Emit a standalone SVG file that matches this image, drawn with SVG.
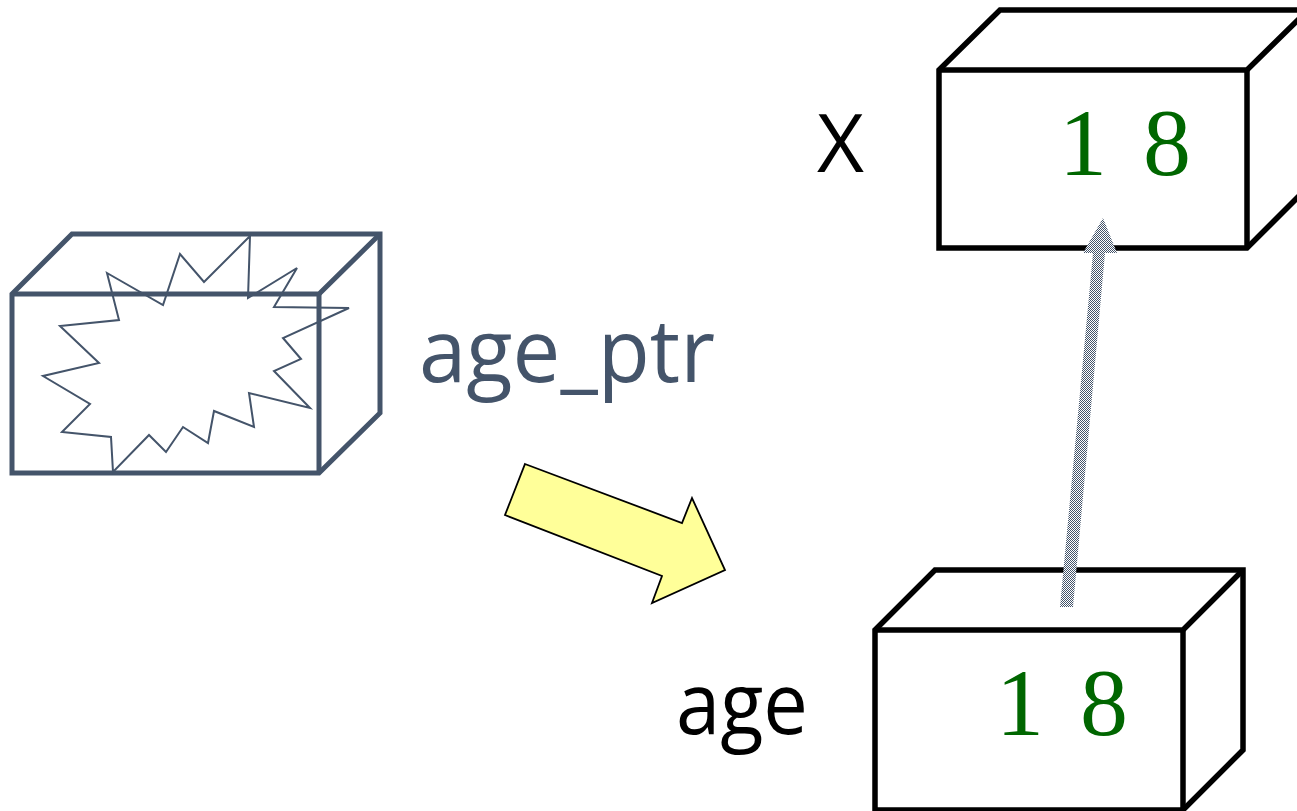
<svg xmlns="http://www.w3.org/2000/svg" width="1297" height="811" viewBox="0 0 1297 811">
<style>
.box{fill:#fff;stroke:#000;stroke-width:5.5;stroke-linejoin:miter}
.pbox{fill:#fff;stroke:#44546A;stroke-width:5;stroke-linejoin:miter}
.burst{fill:none;stroke:#44546A;stroke-width:2}
.lbl{font-family:"Open Sans","Liberation Sans",Arial,sans-serif}
.num{font-family:"Liberation Serif","Times New Roman",serif;fill:#006600;font-size:96px;letter-spacing:36px}
</style>
<defs>
<pattern id="chk" patternUnits="userSpaceOnUse" width="2" height="2">
<rect width="2" height="2" fill="#fff"/>
<rect x="0" y="0" width="1" height="1" fill="#44546A"/>
<rect x="1" y="1" width="1" height="1" fill="#44546A"/>
</pattern>
</defs>
<rect width="1297" height="811" fill="#fff"/>
<g id="age_ptr">
<polygon class="pbox" points="12,294 72,234 380,234 380,413 319,473 12,473"/>
<polyline class="pbox" points="12,294 319,294 380,234" style="fill:none"/>
<line class="pbox" x1="319" y1="294" x2="319" y2="473"/>
<polygon class="burst" points="107,273 163,305 180,254 204,282 250,236 248,298 297,268 274,307 349,308 283,338 301,359 274,371 310,408 249,393 254,427 214,411 208,443 183,427 166,452 149,435 113,472 111,437 62,432 90,404 43,376 99,363 60,326 119,320"/>
<text class="lbl" x="419" y="382" font-size="88" fill="#44546A" textLength="296" lengthAdjust="spacingAndGlyphs">age_ptr</text>
</g>
<g id="x">
<polygon class="box" points="939,70 1000,10 1308,10 1308,187 1247,248 939,248"/>
<polyline class="box" points="939,70 1247,70 1308,10" style="fill:none"/>
<line class="box" x1="1247" y1="70" x2="1247" y2="248"/>
<text class="lbl" x="817" y="172" font-size="80" fill="#000" textLength="47" lengthAdjust="spacingAndGlyphs">X</text>
<text class="num" x="1059" y="175">18</text>
</g>
<g id="age">
<polygon class="box" points="875,630 935,570 1243,570 1243,750 1183,810 875,810"/>
<polyline class="box" points="875,630 1183,630 1243,570" style="fill:none"/>
<line class="box" x1="1183" y1="630" x2="1183" y2="810"/>
<text class="lbl" x="676" y="734" font-size="86" fill="#000" textLength="132" lengthAdjust="spacingAndGlyphs">age</text>
<text class="num" x="996" y="735">18</text>
</g>
<g id="connectors">
<polygon points="525,464 682,523 692,498 725,570 652,603 662,576 505,515" fill="#FFFF99" stroke="#000" stroke-width="1.8" stroke-linejoin="miter"/>
<polygon points="1060,607 1073,607 1105,253 1117,253 1103,218 1083,253 1093,253" fill="url(#chk)"/>
</g>
</svg>
